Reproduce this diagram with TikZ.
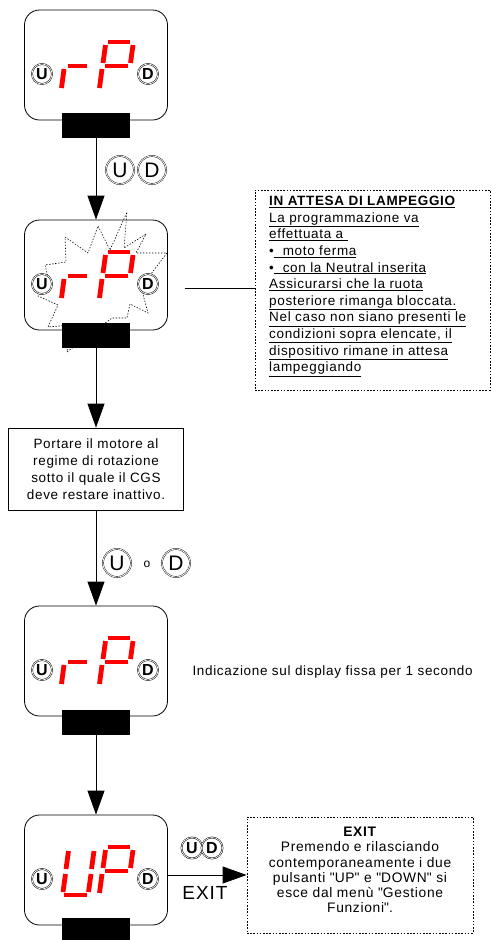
\documentclass[tikz,border=0pt]{standalone}
\usepackage{fontspec}
\setmainfont{Liberation Sans}[LetterSpace=5]
\usetikzlibrary{arrows.meta, positioning}

\tikzset{
  display/.style={draw, line width=0.8pt, rounded corners=15pt, minimum width=143pt, minimum height=110pt, inner sep=0pt},
  keybar/.style={fill=black, minimum width=68pt, minimum height=25pt, inner sep=0pt},
  seg/.style={draw=red, line width=4.8pt},
  dbtn/.style={circle, draw, fill=white, double, double distance=0.7pt, line width=0.5pt, inner sep=0pt, minimum size=20pt, font=\fontsize{16}{16}\selectfont\bfseries},
  bigbtn/.style={circle, draw, double, double distance=0.8pt, line width=0.4pt, inner sep=0pt, minimum size=28pt, font=\fontsize{21}{21}\selectfont},
  flow/.style={line width=0.8pt, -{Triangle[length=24pt, width=17pt]}},
  dotbox/.style={draw, line width=0.8pt, dash pattern=on 1.6pt off 1.6pt, inner sep=0pt},
  txt/.style={font=\fontsize{13.5}{16.6}\selectfont}
}

% seven segment "rP" and "UP", drawn for the first display
\newcommand{\rPsegs}{%
  \draw[seg] (68,66) -- (87,66);
  \draw[seg] (64,69) -- (61.5,88);
  \draw[seg] (108,42) -- (130,42);
  \draw[seg] (105.5,45) -- (103,63);
  \draw[seg] (133,45) -- (130.5,63);
  \draw[seg] (105,66) -- (128,66);
  \draw[seg] (102,69) -- (99.5,88);
}
\newcommand{\UPsegs}{%
  \draw[seg] (68.5,46) -- (66,64);
  \draw[seg] (65.5,69) -- (63,87);
  \draw[seg] (64,90) -- (87,90);
  \draw[seg] (91,69) -- (88.5,87);
  \draw[seg] (94,46) -- (91.5,64);
  \draw[seg] (108,42) -- (130,42);
  \draw[seg] (105.5,45) -- (103,63);
  \draw[seg] (133,45) -- (130.5,63);
  \draw[seg] (105,66) -- (128,66);
  \draw[seg] (102,69) -- (99.5,88);
}

\begin{document}
\begin{tikzpicture}[x=1pt, y=-1pt]
  \useasboundingbox (0,0) rectangle (491,940);

  % display rP
  \node[display] (disp1) at (96,65) {};
  \rPsegs
  \node[dbtn] (u1) at (42,74) {U};
  \node[dbtn] (d1) at (148,74) {D};
  \node[keybar] (bar1) at (96,125.5) {};

  \node[bigbtn] (ku1) at (120,170) {U};
  \node[bigbtn] (kd1) at (152,170) {D};

  % blinking display
  \node[display] (disp2) at (96,275) {};
  \draw[line width=0.6pt, dash pattern=on 1.4pt off 1.6pt]
    (65,237) -- (88,253) -- (98,226) -- (110,250) -- (127,212) -- (124,248) -- (146,234)
    -- (136,253) -- (167,253) -- (141,287) -- (148,313) -- (130,304) -- (127,318) -- (112,318)
    -- (67,352) -- (70,325) -- (48,327) -- (58,305) -- (38,296) -- (50,285) -- (45,265)
    -- (66,262) -- cycle;
  \begin{scope}[shift={(0,210)}]
    \rPsegs
  \end{scope}
  \node[dbtn] (u2) at (42,284) {U};
  \node[dbtn] (d2) at (148,284) {D};
  \node[keybar] (bar2) at (96,335) {};

  % note
  \node[dotbox, minimum width=235pt, minimum height=200pt] (notebox) at (372.5,290) {};
  \node[txt, anchor=north west, align=left, inner sep=0pt] (notetxt) at (269,196) {
    \textbf{\underline{IN ATTESA DI LAMPEGGIO}}\\
    \underline{La programmazione va}\\
    \underline{effettuata a\ }\\
    \textbullet\underline{\ \ moto ferma}\\
    \textbullet\underline{\ \ con la Neutral inserita}\\
    \underline{Assicurarsi che la ruota}\\
    \underline{posteriore rimanga bloccata.}\\
    \underline{Nel caso non siano presenti le}\\
    \underline{condizioni sopra elencate, il}\\
    \underline{dispositivo rimane in attesa}\\
    \underline{lampeggiando}
  };
  \coordinate (tap) at (185,288);
  \draw[line width=0.8pt] (tap) -- (tap -| notebox.west);

  % set speed
  \node[draw, line width=0.8pt, minimum width=175pt, minimum height=82pt, align=center, font=\fontsize{13.5}{17}\selectfont] (setbox) at (96,469) {
    Portare il motore al\\regime di rotazione\\sotto il quale il CGS\\deve restare inattivo.
  };

  \node[bigbtn] (ku3) at (117,563) {U};
  \node[font=\fontsize{12}{12}\selectfont] (or3) at (147,564) {o};
  \node[bigbtn] (kd3) at (176,563) {D};

  % fixed display
  \node[display] (disp3) at (96,661) {};
  \begin{scope}[shift={(0,596)}]
    \rPsegs
  \end{scope}
  \node[dbtn] (u3) at (42,670) {U};
  \node[dbtn] (d3) at (148,670) {D};
  \node[keybar] (bar3) at (96,722) {};
  \node[txt, anchor=west] (hold) at (189,672) {Indicazione sul display fissa per 1 secondo};

  % display UP
  \node[display] (disp4) at (96,870) {};
  \begin{scope}[shift={(0,805)}]
    \UPsegs
  \end{scope}
  \node[dbtn] (u4) at (42,879) {U};
  \node[dbtn] (d4) at (148,879) {D};
  \node[keybar] (bar4) at (96,930) {};

  \node[dbtn, minimum size=21pt] (ku4) at (192,848) {U};
  \node[dbtn, minimum size=21pt] (kd4) at (212,848) {D};
  \node[font=\fontsize{19}{19}\selectfont] (exitlbl) at (205,893) {EXIT};

  % exit note
  \node[dotbox, minimum width=226pt, minimum height=116pt] (exitbox) at (360,875) {};
  \node[font=\fontsize{13.8}{15.2}\selectfont, align=center, inner sep=0pt] (exittxt) at (360,870) {
    \textbf{EXIT}\\Premendo e rilasciando\\contemporaneamente i due\\pulsanti \textquotedbl UP\textquotedbl{} e \textquotedbl DOWN\textquotedbl{} si\\esce dal menù \textquotedbl Gestione\\Funzioni\textquotedbl .
  };

  % connectors
  \draw[flow] (bar1.south) -- (disp2.north);
  \draw[flow] (bar2.south) -- (setbox.north);
  \draw[flow] (setbox.south) -- (disp3.north);
  \draw[flow] (bar3.south) -- (disp4.north);
  \draw[flow] (disp4.east |- exitbox.west) -- (exitbox.west);
\end{tikzpicture}
\end{document}
